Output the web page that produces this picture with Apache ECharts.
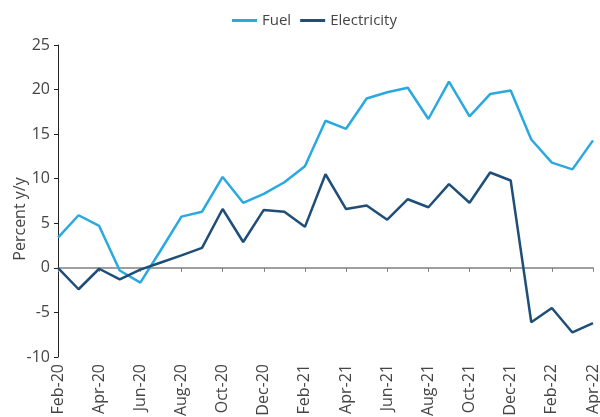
<!DOCTYPE html>
<html>
<head>
<meta charset="utf-8">
<script src="https://cdn.jsdelivr.net/npm/echarts@6/dist/echarts.min.js"></script>
<style>
  html, body { margin: 0; padding: 0; background: #fff; }
  #chart { width: 600px; height: 417px; }
</style>
</head>
<body>
<div id="chart"></div>
<script>
// months, Feb-20 .. Apr-22
const months = ['Feb-20', 'Mar-20', 'Apr-20', 'May-20', 'Jun-20', 'Jul-20', 'Aug-20', 'Sep-20', 'Oct-20',
  'Nov-20', 'Dec-20', 'Jan-21', 'Feb-21', 'Mar-21', 'Apr-21', 'May-21', 'Jun-21', 'Jul-21', 'Aug-21',
  'Sep-21', 'Oct-21', 'Nov-21', 'Dec-21', 'Jan-22', 'Feb-22', 'Mar-22', 'Apr-22']

const fuel = [3.4, 5.9, 4.7, -0.3, -1.65, 2.0, 5.75, 6.3, 10.2, 7.3, 8.3, 9.6, 11.4, 16.5, 15.6, 19.0,
  19.7, 20.2, 16.7, 20.9, 17.0, 19.5, 19.9, 14.4, 11.8, 11.05, 14.3]

const electricity = [0, -2.4, -0.1, -1.3, -0.2, 0.6, 1.4, 2.25, 6.6, 2.9, 6.5, 6.3, 4.6, 10.5, 6.6, 7.0,
  5.4, 7.7, 6.8, 9.4, 7.3, 10.7, 9.8, -6.1, -4.5, -7.25, -6.2]

const yTicks = { min: -10, max: 25, step: 5 }

const font = '"Open Sans", "Noto Sans", sans-serif'
const textColor = '#454545'
const colors = ['#2AA9E0', '#1F4E79']

const chart = echarts.init(document.getElementById('chart'))
chart.setOption({
  color: colors,
  animation: false,
  textStyle: { fontFamily: font },
  legend: {
    top: 8,
    left: 227,
    itemWidth: 25,
    itemHeight: 3,
    itemGap: 9,
    icon: 'rect',
    textStyle: { fontSize: 15, color: textColor, fontFamily: font },
    data: ['Fuel', 'Electricity']
  },
  grid: {
    left: 58,
    right: 7,
    top: 45,
    bottom: 60,
    outerBoundsMode: 'none'
  },
  xAxis: [{
    type: 'category',
    data: months,
    boundaryGap: false,
    position: 'bottom',
    axisLine: { show: false, onZero: false },
    axisTick: { show: false },
    axisLabel: {
      interval: 1,
      rotate: 90,
      margin: 7,
      fontSize: 16,
      color: textColor,
      fontFamily: font
    },
    splitLine: { show: false }
  }, {
    // zero line with ticks
    type: 'category',
    data: months,
    boundaryGap: false,
    position: 'top',
    axisLine: { show: true, onZero: true, lineStyle: { color: '#808080', width: 1.5 } },
    axisTick: { show: true, inside: true, interval: 1, length: 4, lineStyle: { color: '#808080' } },
    axisLabel: { show: false },
    splitLine: { show: false }
  }],
  yAxis: {
    type: 'value',
    min: yTicks.min,
    max: yTicks.max,
    interval: yTicks.step,
    name: 'Percent y/y',
    nameLocation: 'middle',
    nameRotate: 90,
    nameGap: 30,
    nameMoveOverlap: false,
    nameTextStyle: { fontSize: 16, color: textColor, fontFamily: font, padding: [0, 36, 0, 0] },
    axisLine: { show: true, lineStyle: { color: '#222', width: 1 } },
    axisTick: { show: true, length: 4, lineStyle: { color: '#222' } },
    axisLabel: { fontSize: 16, color: textColor, margin: 8, fontFamily: font },
    splitLine: { show: false }
  },
  series: [{
    name: 'Fuel',
    type: 'line',
    data: fuel,
    symbol: 'none',
    lineStyle: { width: 2.5, color: colors[0] }
  }, {
    name: 'Electricity',
    type: 'line',
    data: electricity,
    symbol: 'none',
    lineStyle: { width: 2.5, color: colors[1] }
  }]
})
</script>
</body>
</html>
